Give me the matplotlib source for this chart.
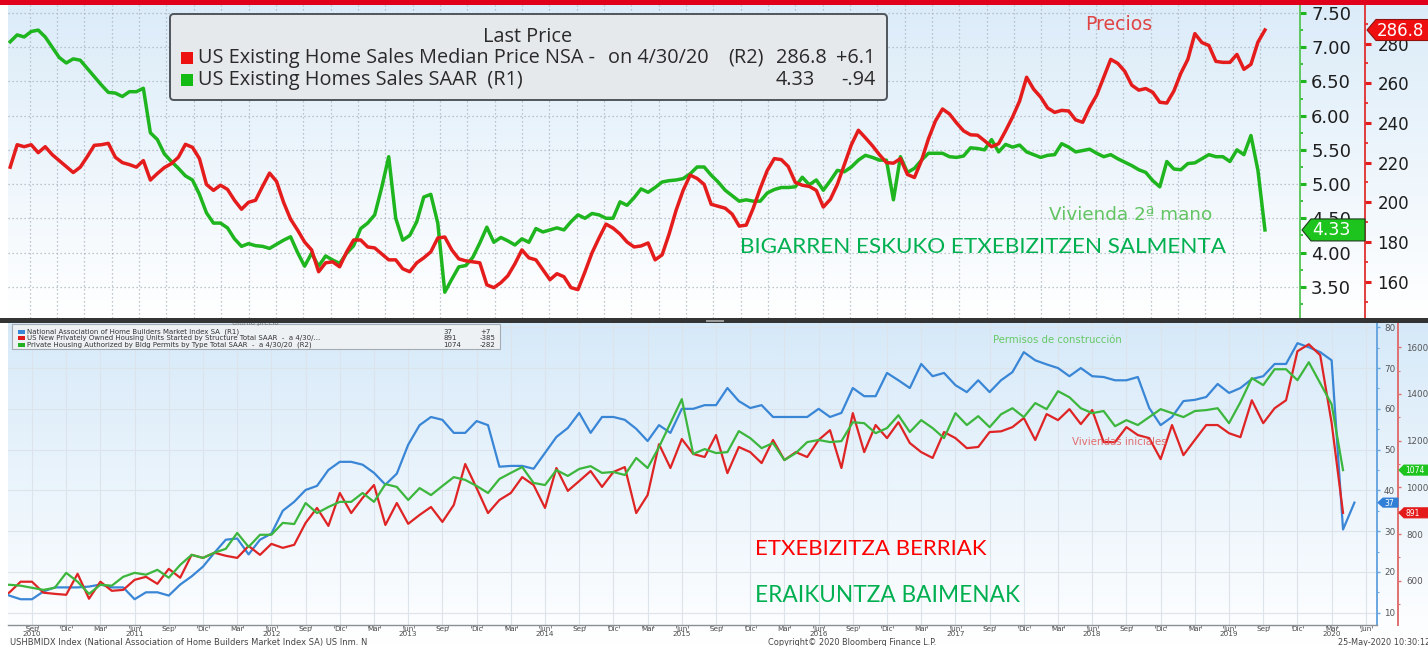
import numpy as np
import matplotlib
matplotlib.use("Agg")
import matplotlib.pyplot as plt
from matplotlib.patches import Rectangle, FancyBboxPatch, Polygon

# ---------------- DATA ----------------
# Upper chart, monthly May-2005 .. Apr-2020
median_price = [
    217.7, 229, 228, 229, 225, 228, 224, 221, 218, 215,
    217.7, 223, 228.7, 229, 229.7, 222.7, 220, 219, 217.7, 221,
    211.2, 214.5, 217.5, 219.5, 222.7, 229.2, 227.7, 222, 209, 206,
    208.6, 206.5, 201, 196.5, 200, 201, 208, 214.7, 210.5, 200,
    191.5, 186, 180, 176, 165, 169.5, 170, 167.5, 175, 181,
    181, 177.5, 177, 174, 171, 171, 166.5, 165, 169.5, 172,
    175, 182, 182.5, 176, 171.5, 170.5, 170, 169.5, 158.4, 157,
    159.5, 163, 169, 176, 172, 171, 166, 161, 164, 162.5,
    157, 156, 165, 174.5, 182, 189, 187, 184, 180, 177.5,
    178, 179.5, 171, 173.5, 184, 196, 206, 213.7, 212, 209,
    199, 198, 197, 194, 188, 188.5, 197, 207, 216, 222,
    221.5, 218, 210, 208.6, 208, 206, 197.6, 201.5, 209, 219,
    229, 236.3, 232.5, 228.5, 224, 220, 219.7, 222, 214, 212.5,
    221, 232, 241, 247, 244.5, 240, 236, 234, 233.8, 231,
    228, 229.5, 236, 243, 251, 263, 257, 253, 247.5, 245.3,
    246.3, 246, 241.5, 240.3, 247.8, 254, 263, 272, 270, 266,
    259, 256.5, 257.3, 255.4, 250.4, 250, 256, 265, 272, 285,
    280.5, 279, 271, 270.5, 270.5, 274.5, 267, 269.5, 280.7, 286.8]
existing_sales = [
    7.08, 7.18, 7.15, 7.23, 7.25, 7.15, 7.00, 6.85, 6.77, 6.83,
    6.81, 6.69, 6.57, 6.45, 6.34, 6.33, 6.28, 6.35, 6.35, 6.40,
    5.75, 5.65, 5.44, 5.33, 5.23, 5.12, 5.06, 4.85, 4.58, 4.43,
    4.43, 4.36, 4.20, 4.09, 4.13, 4.10, 4.09, 4.06, 4.12, 4.18,
    4.23, 4.00, 3.80, 3.99, 3.80, 3.95, 3.89, 3.84, 3.99, 4.10,
    4.35, 4.43, 4.55, 4.95, 5.40, 4.50, 4.18, 4.25, 4.45, 4.81,
    4.85, 4.43, 3.42, 3.61, 3.79, 3.81, 3.93, 4.14, 4.37, 4.15,
    4.22, 4.17, 4.11, 4.20, 4.15, 4.35, 4.30, 4.33, 4.36, 4.33,
    4.45, 4.55, 4.50, 4.57, 4.55, 4.50, 4.50, 4.74, 4.69, 4.80,
    4.93, 4.88, 4.95, 5.03, 5.05, 5.06, 5.08, 5.15, 5.25, 5.25,
    5.13, 5.03, 4.91, 4.83, 4.75, 4.77, 4.75, 4.75, 4.87, 4.92,
    4.95, 4.95, 4.96, 5.10, 4.99, 5.06, 4.91, 5.05, 5.20, 5.18,
    5.25, 5.35, 5.42, 5.39, 5.35, 5.35, 4.77, 5.40, 5.17, 5.23,
    5.35, 5.45, 5.45, 5.45, 5.40, 5.39, 5.41, 5.53, 5.52, 5.50,
    5.65, 5.47, 5.58, 5.54, 5.57, 5.47, 5.43, 5.39, 5.42, 5.43,
    5.59, 5.54, 5.47, 5.49, 5.51, 5.45, 5.40, 5.43, 5.37, 5.32,
    5.27, 5.21, 5.17, 5.05, 4.96, 5.33, 5.22, 5.21, 5.30, 5.31,
    5.37, 5.43, 5.40, 5.40, 5.33, 5.50, 5.43, 5.71, 5.20, 4.33]

# Lower chart, monthly from Jun-2010
nahb_index = [  # Jun-2010 .. May-2020 (R1)
    16, 14.2, 13.3, 13.3, 15.2, 16.2, 16.2, 16.2, 16.4, 16.9,
    16.2, 16.2, 13.3, 15.0, 15.0, 14.2, 16.9, 18.9, 21.3, 24.7,
    27.9, 28.2, 24.3, 27.9, 29.4, 35.0, 37.2, 40.1, 41.1, 45.0,
    47.0, 47.0, 46.3, 44.3, 41.4, 44.1, 51.2, 56.0, 58.0, 57.3,
    54.1, 54.1, 57.0, 56.0, 45.8, 46.0, 46.0, 45.3, 49.2, 53.1,
    55.3, 59.0, 54.1, 58.0, 58.0, 57.3, 55.1, 52.1, 56.0, 54.1,
    60.0, 60.0, 60.9, 60.9, 65.1, 61.9, 60.2, 60.9, 58.0, 58.0,
    58.0, 58.0, 60.0, 58.0, 59.0, 65.1, 63.1, 63.1, 68.8, 67.0,
    65.1, 71.0, 68.0, 68.8, 65.8, 64.1, 67.0, 64.1, 67.0, 69.0,
    73.9, 71.9, 70.9, 70.0, 68.0, 70.0, 68.0, 67.8, 67.0, 67.0,
    67.8, 60.2, 56.0, 58.0, 61.9, 62.2, 62.9, 66.1, 63.9, 65.1,
    67.3, 68.0, 71.0, 71.0, 76.1, 75.1, 73.9, 71.9, 30.4, 37.0]
housing_starts = [  # Jun-2010 .. Apr-2020 (R2)
    540, 549, 596, 596, 549, 544, 540, 630, 523, 596,
    557, 561, 604, 617, 587, 651, 613, 711, 698, 720,
    707, 698, 749, 711, 758, 741, 754, 848, 912, 835,
    976, 890, 955, 1010, 839, 933, 844, 882, 916, 852,
    925, 1100, 997, 890, 946, 976, 1044, 1010, 912, 1083,
    985, 1027, 1070, 1002, 1066, 1087, 890, 967, 1185, 1083,
    1207, 1143, 1130, 1224, 1061, 1173, 1151, 1104, 1203, 1117,
    1151, 1130, 1203, 1245, 1083, 1318, 1151, 1267, 1211, 1279,
    1190, 1151, 1126, 1237, 1211, 1168, 1173, 1237, 1240, 1258,
    1297, 1203, 1314, 1288, 1335, 1271, 1331, 1194, 1194, 1258,
    1224, 1211, 1121, 1267, 1138, 1203, 1267, 1267, 1232, 1215,
    1373, 1275, 1339, 1373, 1583, 1613, 1566, 1276, 891]
building_permits = [  # Jun-2010 .. Apr-2020 (R2)
    580, 583, 579, 570, 561, 570, 634, 596, 544, 583,
    579, 617, 634, 626, 647, 613, 668, 711, 698, 720,
    737, 805, 745, 797, 797, 848, 843, 933, 890, 916,
    938, 938, 976, 938, 1014, 1002, 946, 997, 967, 1006,
    1044, 1032, 1006, 976, 1036, 1062, 1087, 1019, 1010, 1074,
    1049, 1079, 1091, 1062, 1066, 1053, 1126, 1083, 1173, 1275,
    1378, 1143, 1164, 1147, 1151, 1241, 1211, 1168, 1190, 1117,
    1147, 1194, 1203, 1194, 1198, 1279, 1275, 1232, 1254, 1309,
    1237, 1288, 1254, 1211, 1318, 1267, 1305, 1258, 1313, 1339,
    1301, 1361, 1335, 1412, 1386, 1339, 1318, 1327, 1262, 1288,
    1267, 1301, 1335, 1318, 1301, 1327, 1331, 1339, 1275, 1365,
    1468, 1438, 1506, 1506, 1459, 1536, 1446, 1356, 1074]

sales_ticks = [3.5, 4.0, 4.5, 5.0, 5.5, 6.0, 6.5, 7.0, 7.5]
sales_tick_labels = ["3.50", "4.00", "4.50", "5.00", "5.50", "6.00", "6.50", "7.00", "7.50"]
price_ticks = [160, 180, 200, 220, 240, 260, 280]
nahb_ticks = [10, 20, 30, 40, 50, 60, 70, 80]
starts_ticks = [600, 800, 1000, 1200, 1400, 1600]
quarter_labels = ["Sep\n2010", "Dic", "Mar", "Jun\n2011", "Sep", "Dic", "Mar", "Jun\n2012",
                  "Sep", "Dic", "Mar", "Jun\n2013", "Sep", "Dic", "Mar", "Jun\n2014",
                  "Sep", "Dic", "Mar", "Jun\n2015", "Sep", "Dic", "Mar", "Jun\n2016",
                  "Sep", "Dic", "Mar", "Jun\n2017", "Sep", "Dic", "Mar", "Jun\n2018",
                  "Sep", "Dic", "Mar", "Jun\n2019", "Sep", "Dic", "Mar\n2020", "Jun"]
first_quarter_index = 3   # Sep-2010 is the 4th month of the lower series

# ---------------- FIGURE ----------------
W, H = 1428, 646
fig = plt.figure(figsize=(W / 100, H / 100), dpi=100)


def frame(x0, y0, x1, y1):
    return [x0 / W, 1 - y1 / H, (x1 - x0) / W, (y1 - y0) / H]


bg = fig.add_axes([0, 0, 1, 1], zorder=-20)
bg.set_xlim(0, W); bg.set_ylim(H, 0); bg.axis("off")


def gradient(ax, x0, x1, y0, y1, c0, c1):
    g = np.linspace(0, 1, 256)[:, None, None]
    img = np.array(c0)[None, None, :] * (1 - g) + np.array(c1)[None, None, :] * g
    ax.imshow(img, extent=[x0, x1, y1, y0], aspect="auto", interpolation="bilinear", zorder=0)


gradient(bg, 8, W, 5, 318, (0.86, 0.925, 0.975), (1.0, 1.0, 1.0))
gradient(bg, 8, W, 323, 646, (0.84, 0.915, 0.975), (1.0, 1.0, 1.0))
bg.set_xlim(0, W); bg.set_ylim(H, 0)

# ----- upper chart -----
GREEN_T = "#1fb51f"
RED_T = "#e51c1c"
ax1 = fig.add_axes(frame(8, 5, 1300, 318))
ax1.patch.set_visible(False)
ax1r = ax1.twinx()
xt = np.arange(len(existing_sales))
ax1.plot(xt, existing_sales, color=GREEN_T, lw=2.5, solid_joinstyle="round", zorder=3)
ax1r.plot(xt, median_price, color=RED_T, lw=2.5, solid_joinstyle="round", zorder=3)
ax1.set_xlim(-0.31, 184.0)
ax1.set_ylim(3.043, 7.617)
ax1r.set_ylim(141.7, 299.4)

for a in (ax1, ax1r):
    for s in ("left", "top", "bottom"):
        a.spines[s].set_visible(False)
ax1.spines["right"].set_color("#55c455"); ax1.spines["right"].set_linewidth(1.3)
ax1r.spines["right"].set_color("#e03030"); ax1r.spines["right"].set_linewidth(1.3)
ax1r.spines["right"].set_position(("axes", (1365 - 8) / (1300 - 8)))

ax1.yaxis.set_ticks_position("right")
ax1.set_yticks(sales_ticks, sales_tick_labels)
ax1.set_yticks(np.arange(3.25, 7.6, 0.5), minor=True)
ax1.tick_params(axis="y", which="major", direction="out", length=4, width=2.2,
                color=GREEN_T, labelsize=13, labelcolor="#1e1e1e", pad=4)
ax1.tick_params(axis="y", which="minor", direction="out", length=2.5, width=1.2, color=GREEN_T)
ax1r.set_yticks(price_ticks)
ax1r.set_yticks(np.arange(150, 300, 10), minor=True)
ax1r.tick_params(axis="y", which="major", direction="out", length=4, width=2.2,
                 color=RED_T, labelsize=12, labelcolor="#1e1e1e", pad=5)
ax1r.tick_params(axis="y", which="minor", direction="out", length=2.5, width=1.2, color=RED_T)

ax1.set_xticks(np.arange(178.3, -1, -3.9))
ax1.tick_params(axis="x", length=0, labelbottom=False)
ax1.grid(True, axis="both", which="major", color="#aab4be", lw=0.9, ls=(0, (1.0, 2.2)))
ax1.set_axisbelow(True)

# ----- lower chart -----
BLUE_B = "#3a86d6"
RED_B = "#de2424"
GREEN_B = "#3cb63c"
ax2 = fig.add_axes(frame(8, 323, 1377, 625))
ax2.patch.set_visible(False)
ax2r = ax2.twinx()
ax2.plot(np.arange(len(nahb_index)), nahb_index, color=BLUE_B, lw=1.6, zorder=3)
ax2r.plot(np.arange(len(housing_starts)), housing_starts, color=RED_B, lw=1.6, zorder=3)
ax2r.plot(np.arange(len(building_permits)), building_permits, color=GREEN_B, lw=1.6, zorder=3)
ax2.set_xlim(0.895, 120.98)
ax2.set_ylim(6.98, 81.05)
ax2r.set_ylim(410.6, 1704)

for a in (ax2, ax2r):
    for s in ("left", "top"):
        a.spines[s].set_visible(False)
ax2r.spines["bottom"].set_visible(False)
ax2.spines["bottom"].set_color("#8a8f95"); ax2.spines["bottom"].set_linewidth(1.0)
ax2.spines["right"].set_color("#6aa6e0"); ax2.spines["right"].set_linewidth(1.4)
ax2r.spines["right"].set_color("#e07070"); ax2r.spines["right"].set_linewidth(1.4)
ax2r.spines["right"].set_position(("axes", (1398 - 8) / (1377 - 8)))

ax2.yaxis.set_ticks_position("right")
ax2.set_yticks(nahb_ticks)
ax2.set_yticks(np.arange(15, 80, 10), minor=True)
ax2.tick_params(axis="y", which="major", direction="out", length=2.5, width=1,
                color="#6aa6e0", labelsize=6.3, labelcolor="#555", pad=2.5)
ax2.tick_params(axis="y", which="minor", direction="out", length=1.5, width=0.8, color="#6aa6e0")
ax2r.set_yticks(starts_ticks)
ax2r.set_yticks(np.arange(500, 1700, 100), minor=True)
ax2r.tick_params(axis="y", which="major", direction="out", length=2.5, width=1,
                 color="#e07070", labelsize=6.3, labelcolor="#555", pad=3.5)
ax2r.tick_params(axis="y", which="minor", direction="out", length=1.5, width=0.8, color="#e07070")

qpos = first_quarter_index + 3 * np.arange(len(quarter_labels))
ax2.set_xticks(qpos, quarter_labels)
ax2.set_xticks(np.concatenate([qpos - 0.5, qpos + 0.5]), minor=True)
ax2.tick_params(axis="x", which="major", length=0, pad=0.8, labelsize=5.2, labelcolor="#4a4a4a")
ax2.tick_params(axis="x", which="minor", length=2, width=0.7, color="#888", direction="out")
for lab in ax2.get_xticklabels():
    lab.set_linespacing(0.8)
ax2.grid(True, axis="both", which="major", color="#dde3ea", lw=0.8)
ax2.set_axisbelow(True)

# ----- overlay: decorations and annotations -----
ov = fig.add_axes([0, 0, 1, 1], zorder=20)
ov.set_xlim(0, W); ov.set_ylim(H, 0); ov.axis("off"); ov.patch.set_visible(False)

fig.canvas.draw()
renderer = fig.canvas.get_renderer()


def to_px(ax, x, v):
    d = ax.transData.transform((x, v))
    return ov.transData.inverted().transform(d)


def fit(t, width):
    bb = t.get_window_extent(renderer)
    t.set_fontsize(t.get_fontsize() * width / bb.width)
    return t


def tag(x_tip, y, x_right, half_h, notch, fc, ec, text, fs, tcol="white"):
    pts = [(x_tip, y), (x_tip + notch, y - half_h), (x_right, y - half_h),
           (x_right, y + half_h), (x_tip + notch, y + half_h)]
    ov.add_patch(Polygon(pts, closed=True, fc=fc, ec=ec, lw=0.8, zorder=30))
    ov.text(x_tip + notch + 1, y + 0.5, text, color=tcol, fontsize=fs, va="center",
            ha="left", zorder=31, family="DejaVu Sans")


# top red bar and separator
ov.add_patch(Rectangle((0, 0), W, 5, fc="#e0001b", ec="none", zorder=40))
ov.text(255, 322, "Último precio", fontsize=5, color="#777", ha="center", va="center", zorder=25)
ov.add_patch(Rectangle((0, 318), W, 5, fc="#343434", ec="none", zorder=40))
ov.add_patch(Rectangle((706, 319.5), 18, 2, fc="#9a9a9a", ec="none", zorder=41))

# top legend
ov.add_patch(FancyBboxPatch((170, 14), 717, 86, boxstyle="round,pad=0,rounding_size=4",
                            fc="#e6e9ec", ec="#4f555b", lw=1.4, zorder=25))
LF = "Open Sans"
ov.add_patch(Rectangle((181, 52), 12, 12, fc="#ee1111", ec="none", zorder=26))
ov.add_patch(Rectangle((181, 74), 12, 12, fc="#14bb14", ec="none", zorder=26))
t0 = ov.text(198, 58, "US Existing Home Sales Median Price NSA -", family=LF, fontsize=13,
             color="#2a2a2a", va="center", ha="left", zorder=27)
fit(t0, 394)
lfs = t0.get_fontsize()
ov.text(528, 37, "Last Price", family=LF, fontsize=lfs, color="#2a2a2a", va="center", ha="center", zorder=27)
ov.text(608, 58, "on 4/30/20", family=LF, fontsize=lfs, color="#2a2a2a", va="center", ha="left", zorder=27)
ov.text(728, 58, "(R2)", family=LF, fontsize=lfs, color="#2a2a2a", va="center", ha="left", zorder=27)
ov.text(827, 58, "286.8", family=LF, fontsize=lfs, color="#2a2a2a", va="center", ha="right", zorder=27)
ov.text(875, 58, "+6.1", family=LF, fontsize=lfs, color="#2a2a2a", va="center", ha="right", zorder=27)
ov.text(198, 80, "US Existing Homes Sales SAAR  (R1)", family=LF, fontsize=lfs, color="#2a2a2a",
        va="center", ha="left", zorder=27)
ov.text(815, 80, "4.33", family=LF, fontsize=lfs, color="#2a2a2a", va="center", ha="right", zorder=27)
ov.text(875, 80, "-.94", family=LF, fontsize=lfs, color="#2a2a2a", va="center", ha="right", zorder=27)

# top annotations
t = ov.text(1085, 25, "Precios", color="#e04545", fontsize=13, va="center", ha="left", zorder=27)
fit(t, 67)
t = ov.text(1049, 215, "Vivienda 2ª mano", color="#62c462", fontsize=13, va="center", ha="left", zorder=27)
fit(t, 163)
BF = "Lato"
t = ov.text(740, 247, "BIGARREN ESKUKO ETXEBIZITZEN SALMENTA", family=BF, color="#00b050",
            fontsize=16, va="center", ha="left", zorder=27)
fit(t, 487)

# value tags upper
_, yg = to_px(ax1, xt[-1], existing_sales[-1])
tag(1302, yg, 1365, 11, 9, "#1ec41e", "#1d3d1d", "4.33", 12.5)
_, yr = to_px(ax1r, xt[-1], median_price[-1])
tag(1367, yr, 1432, 10.5, 9, "#ee1010", "#901010", "286.8", 12)

# lower legend
ov.add_patch(Rectangle((12, 324), 488, 25, fc="#eef1f4", ec="#a4abb2", lw=0.8, zorder=24))
rows = [(331.6, BLUE_B, "National Association of Home Builders Market Index SA  (R1)", "37", "+7"),
        (338.2, "#e01a1a", "US New Privately Owned Housing Units Started by Structure Total SAAR  -  a 4/30/...", "891", "-385"),
        (344.8, "#22b022", "Private Housing Authorized by Bldg Permits by Type Total SAAR  -  a 4/30/20  (R2)", "1074", "-282")]
sfs = 5.0
for yy, c, lab, val, chg in rows:
    ov.add_patch(Rectangle((18, yy - 1.9), 7, 3.8, fc=c, ec="none", zorder=26))
    ov.text(27, yy, lab, fontsize=sfs, color="#333", va="center", ha="left", zorder=27)
    ov.text(443, yy, val, fontsize=sfs, color="#333", va="center", ha="left", zorder=27)
    ov.text(480, yy, chg, fontsize=sfs, color="#333", va="center", ha="left", zorder=27)

t = ov.text(993, 340, "Permisos de construcción", color="#66c966", fontsize=6, va="center", ha="left", zorder=27)
fit(t, 130)
t = ov.text(1072, 442, "Viviendas iniciales", color="#e06060", fontsize=6, va="center", ha="left",
            zorder=27, alpha=0.9)
fit(t, 96)
t = ov.text(755, 549, "ETXEBIZITZA BERRIAK", family=BF, color="#ff0000", fontsize=16, va="center", ha="left", zorder=27)
fit(t, 232)
t = ov.text(755, 595, "ERAIKUNTZA BAIMENAK", family=BF, color="#00b050", fontsize=16, va="center", ha="left", zorder=27)
fit(t, 263)

# value tags lower
_, yb = to_px(ax2, len(nahb_index) - 1, nahb_index[-1])
tag(1378, yb, 1398, 4.5, 5, "#2f7fd6", "#2f7fd6", "37", 5.5)
_, yhs = to_px(ax2r, len(housing_starts) - 1, housing_starts[-1])
tag(1399, yhs, 1432, 5, 5, "#e41a1a", "#e41a1a", "891", 5.5)
_, yp = to_px(ax2r, len(building_permits) - 1, building_permits[-1])
tag(1399, yp, 1432, 5, 5, "#1ec41e", "#1ec41e", "1074", 5.5)

# footer
t = ov.text(10, 642.5, "USHBMIDX Index (National Association of Home Builders Market Index SA) US Inm. N",
            fontsize=5, color="#444", va="center", ha="left", zorder=27)
fit(t, 357)
t = ov.text(768, 642.5, "Copyright© 2020 Bloomberg Finance L.P.", fontsize=5, color="#444",
            va="center", ha="left", zorder=27)
fit(t, 169)
ov.text(1338, 642.5, "25-May-2020 10:30:12", fontsize=t.get_fontsize(), color="#444",
        va="center", ha="left", zorder=27)

fig.savefig("out.png", dpi=100)
